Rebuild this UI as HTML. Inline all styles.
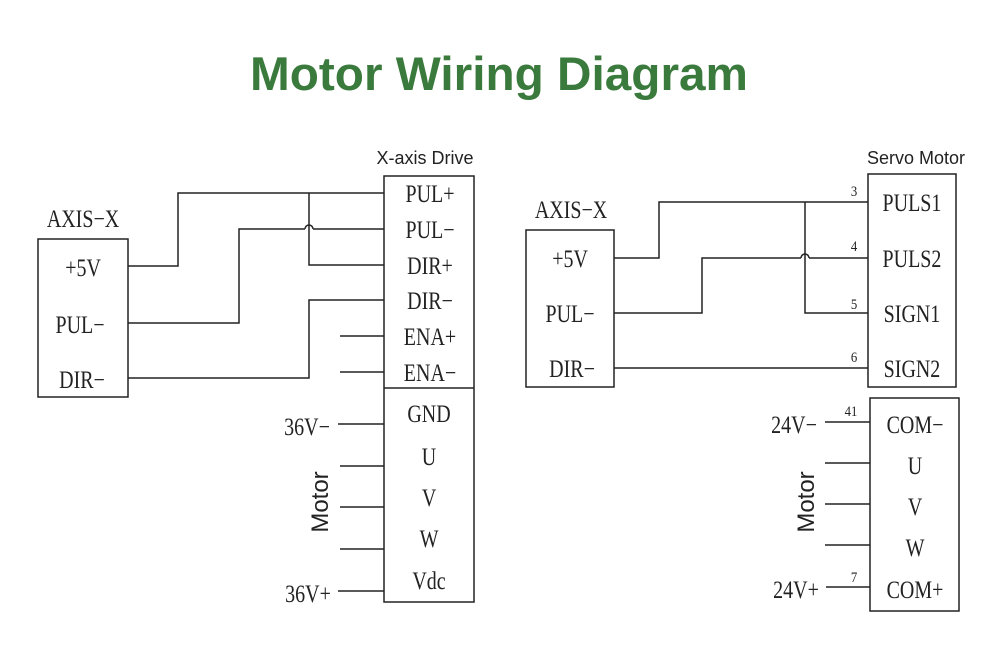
<!DOCTYPE html>
<html><head><meta charset="utf-8"><style>
html,body{margin:0;padding:0;background:#fff;}
svg{display:block;}
.s{font-family:"Liberation Serif",serif;font-size:25px;fill:#222;text-anchor:middle;transform-box:fill-box;transform-origin:center;transform:scaleX(0.8);}
.n{font-family:"Liberation Serif",serif;font-size:15px;fill:#222;text-anchor:middle;transform-box:fill-box;transform-origin:center;transform:scaleX(0.85);}
.a{font-family:"Liberation Sans",sans-serif;fill:#222;}
</style></head><body>
<svg width="1000" height="660" viewBox="0 0 1000 660">
<text x="499" y="90" textLength="498" lengthAdjust="spacingAndGlyphs" font-family="Liberation Sans, sans-serif" font-weight="bold" font-size="47" fill="#3a7a3c" text-anchor="middle">Motor Wiring Diagram</text>
<g fill="none" stroke="#222" stroke-width="1.5">
<rect x="38" y="239" width="90" height="158"/>
<rect x="384" y="176" width="90" height="426"/>
<line x1="384" y1="388" x2="474" y2="388"/>
<polyline points="128,266 178,266 178,193 384,193"/>
<polyline points="128,323 239,323 239,229 305,229"/>
<path d="M305,229 a4,4 0 0 1 8,0"/>
<line x1="313" y1="229" x2="384" y2="229"/>
<polyline points="128,378 309,378 309,300 384,300"/>
<polyline points="309,193 309,265 384,265"/>
<line x1="340" y1="336" x2="384" y2="336"/>
<line x1="340" y1="372" x2="384" y2="372"/>
<line x1="338" y1="424" x2="384" y2="424"/>
<line x1="340" y1="466" x2="384" y2="466"/>
<line x1="340" y1="507" x2="384" y2="507"/>
<line x1="340" y1="549" x2="384" y2="549"/>
<line x1="338" y1="591" x2="384" y2="591"/>
<rect x="526" y="230" width="88" height="157"/>
<rect x="868" y="174" width="88" height="213"/>
<rect x="870" y="398" width="89" height="213"/>
<polyline points="614,258 659,258 659,202 868,202"/>
<polyline points="614,313 702,313 702,258 801,258"/>
<path d="M801,258 a4,4 0 0 1 8,0"/>
<line x1="809" y1="258" x2="868" y2="258"/>
<polyline points="805,202 805,313 868,313"/>
<line x1="614" y1="368" x2="868" y2="368"/>
<line x1="825" y1="422" x2="870" y2="422"/>
<line x1="825" y1="463" x2="870" y2="463"/>
<line x1="825" y1="504" x2="870" y2="504"/>
<line x1="825" y1="545" x2="870" y2="545"/>
<line x1="826" y1="587" x2="870" y2="587"/>
</g>
<text x="425" y="164" class="a" font-size="18" text-anchor="middle">X-axis Drive</text>
<text x="916" y="164" class="a" font-size="18" text-anchor="middle">Servo Motor</text>
<text x="83" y="227" class="s" font-size="19">AXIS−X</text>
<text x="571" y="218" class="s" font-size="19">AXIS−X</text>
<text x="83" y="276" class="s">+5V</text>
<text x="80" y="333" class="s">PUL−</text>
<text x="82" y="388" class="s">DIR−</text>
<text x="430" y="202" class="s">PUL+</text>
<text x="430" y="238" class="s">PUL−</text>
<text x="430" y="274" class="s">DIR+</text>
<text x="430" y="309" class="s">DIR−</text>
<text x="430" y="345" class="s">ENA+</text>
<text x="430" y="381" class="s">ENA−</text>
<text x="429" y="422" class="s">GND</text>
<text x="429" y="465" class="s">U</text>
<text x="429" y="506" class="s">V</text>
<text x="429" y="547" class="s">W</text>
<text x="429" y="589" class="s">Vdc</text>
<text x="307" y="435" class="s">36V−</text>
<text x="308" y="602" class="s">36V+</text>
<text transform="translate(328,502) rotate(-90)" class="a" font-size="24" text-anchor="middle">Motor</text>
<text x="570" y="267" class="s">+5V</text>
<text x="570" y="322" class="s">PUL−</text>
<text x="572" y="377" class="s">DIR−</text>
<text x="912" y="211" class="s">PULS1</text>
<text x="912" y="267" class="s">PULS2</text>
<text x="912" y="322" class="s">SIGN1</text>
<text x="912" y="377" class="s">SIGN2</text>
<text x="854" y="196" class="n">3</text>
<text x="854" y="251" class="n">4</text>
<text x="854" y="309" class="n">5</text>
<text x="854" y="362" class="n">6</text>
<text x="851" y="416" class="n">41</text>
<text x="854" y="582" class="n">7</text>
<text x="915" y="433" class="s">COM−</text>
<text x="915" y="474" class="s">U</text>
<text x="915" y="515" class="s">V</text>
<text x="915" y="556" class="s">W</text>
<text x="915" y="598" class="s">COM+</text>
<text x="794" y="433" class="s">24V−</text>
<text x="796" y="598" class="s">24V+</text>
<text transform="translate(814,502) rotate(-90)" class="a" font-size="24" text-anchor="middle">Motor</text>
</svg>
</body></html>
